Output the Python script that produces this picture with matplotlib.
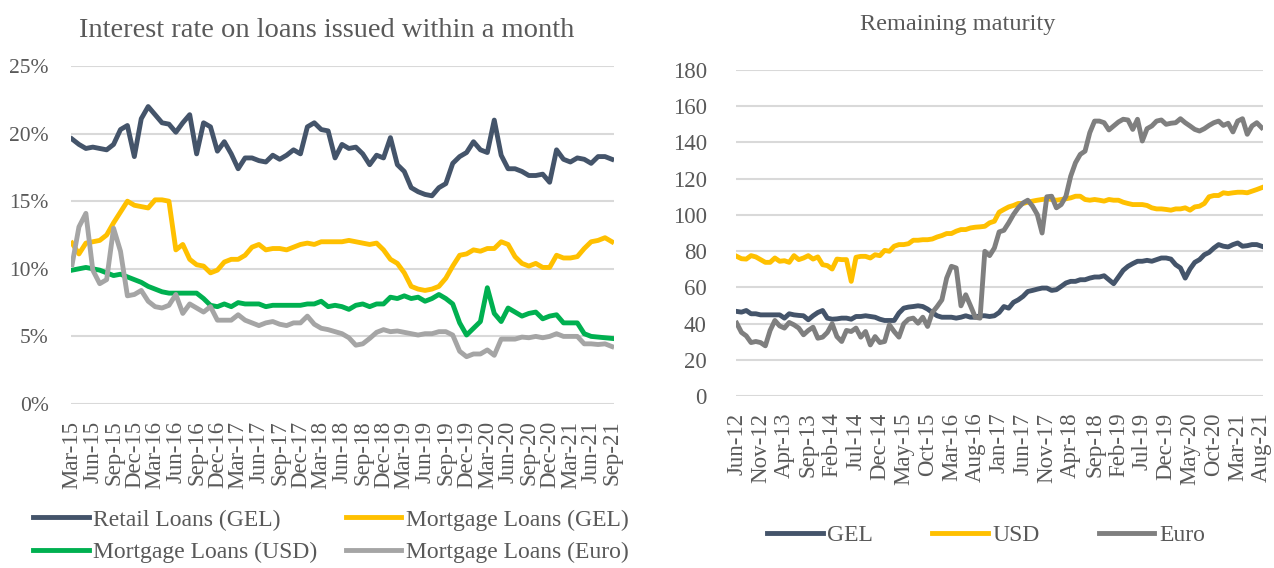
import matplotlib
matplotlib.use("Agg")
import matplotlib.pyplot as plt
from matplotlib.ticker import FuncFormatter

# left panel: interest rates (%), monthly Mar-15 .. Sep-21
left_months = ["Mar-15", "Jun-15", "Sep-15", "Dec-15", "Mar-16", "Jun-16", "Sep-16", "Dec-16",
               "Mar-17", "Jun-17", "Sep-17", "Dec-17", "Mar-18", "Jun-18", "Sep-18", "Dec-18",
               "Mar-19", "Jun-19", "Sep-19", "Dec-19", "Mar-20", "Jun-20", "Sep-20", "Dec-20",
               "Mar-21", "Jun-21", "Sep-21"]

retail_gel = [19.6, 19.2, 18.9, 19.0, 18.9, 18.8, 19.2, 20.3, 20.6, 18.3,
              21.1, 22.0, 21.4, 20.8, 20.7, 20.1, 20.8, 21.4, 18.5, 20.8,
              20.5, 18.7, 19.4, 18.5, 17.4, 18.2, 18.2, 18.0, 17.9, 18.4,
              18.1, 18.4, 18.8, 18.5, 20.5, 20.8, 20.3, 20.2, 18.2, 19.2,
              18.9, 19.0, 18.5, 17.7, 18.4, 18.2, 19.7, 17.7, 17.2, 16.0,
              15.7, 15.5, 15.4, 16.0, 16.3, 17.8, 18.3, 18.6, 19.4, 18.8,
              18.6, 21.0, 18.4, 17.4, 17.4, 17.2, 16.9, 16.9, 17.0, 16.4,
              18.8, 18.1, 17.9, 18.2, 18.1, 17.8, 18.3, 18.3, 18.1]

mortgage_gel = [11.9, 11.1, 11.9, 12.0, 12.1, 12.5, 13.4, 14.2, 15.0, 14.7,
                14.6, 14.5, 15.1, 15.1, 15.0, 11.4, 11.8, 10.7, 10.3, 10.2,
                9.7, 9.9, 10.5, 10.7, 10.7, 11.0, 11.6, 11.8, 11.4, 11.5,
                11.5, 11.4, 11.6, 11.8, 11.9, 11.8, 12.0, 12.0, 12.0, 12.0,
                12.1, 12.0, 11.9, 11.8, 11.9, 11.4, 10.7, 10.4, 9.7, 8.7,
                8.5, 8.4, 8.5, 8.7, 9.3, 10.2, 11.0, 11.1, 11.4, 11.3,
                11.5, 11.5, 12.0, 11.8, 10.9, 10.4, 10.2, 10.4, 10.1, 10.1,
                11.0, 10.8, 10.8, 10.9, 11.5, 12.0, 12.1, 12.3, 12.0]

mortgage_usd = [9.9, 10.0, 10.1, 10.0, 9.9, 9.7, 9.5, 9.6, 9.4, 9.2,
                9.0, 8.7, 8.5, 8.3, 8.2, 8.2, 8.2, 8.2, 8.2, 7.8,
                7.3, 7.2, 7.4, 7.2, 7.5, 7.4, 7.4, 7.4, 7.2, 7.3,
                7.3, 7.3, 7.3, 7.3, 7.4, 7.4, 7.6, 7.2, 7.3, 7.2,
                7.0, 7.3, 7.4, 7.2, 7.4, 7.4, 7.9, 7.8, 8.0, 7.8,
                7.9, 7.6, 7.8, 8.1, 7.8, 7.4, 6.0, 5.1, 5.6, 6.1,
                8.6, 6.7, 6.1, 7.1, 6.8, 6.5, 6.7, 6.8, 6.3, 6.5,
                6.6, 6.0, 6.0, 6.0, 5.2, 5.0, 4.95, 4.9, 4.85]

mortgage_eur = [10.3, 13.1, 14.1, 9.9, 8.9, 9.2, 13.0, 11.3, 8.0, 8.1,
                8.4, 7.6, 7.2, 7.1, 7.3, 8.1, 6.7, 7.4, 7.1, 6.8,
                7.2, 6.2, 6.2, 6.2, 6.6, 6.2, 6.0, 5.8, 6.0, 6.1,
                5.9, 5.8, 6.0, 6.0, 6.5, 5.9, 5.6, 5.5, 5.35, 5.2,
                4.9, 4.35, 4.45, 4.85, 5.3, 5.5, 5.35, 5.4, 5.3, 5.2,
                5.1, 5.2, 5.2, 5.35, 5.35, 5.1, 3.9, 3.5, 3.7, 3.7,
                4.0, 3.6, 4.8, 4.8, 4.8, 4.95, 4.9, 5.0, 4.9, 5.0,
                5.2, 5.0, 5.0, 5.0, 4.45, 4.45, 4.4, 4.45, 4.25]

# right panel: remaining maturity (months), monthly Jun-12 .. Aug-21
right_months = ["Jun-12", "Nov-12", "Apr-13", "Sep-13", "Feb-14", "Jul-14", "Dec-14", "May-15",
                "Oct-15", "Mar-16", "Aug-16", "Jan-17", "Jun-17", "Nov-17", "Apr-18", "Sep-18",
                "Feb-19", "Jul-19", "Dec-19", "May-20", "Oct-20", "Mar-21", "Aug-21"]

mat_gel = [46.7, 46.3, 47.2, 45.4, 45.4, 44.8, 44.8, 44.8, 44.8, 44.8,
           43.0, 45.4, 44.8, 44.5, 44.3, 42.1, 44.3, 46.1, 47.2, 43.0,
           42.4, 42.6, 43.0, 43.0, 42.4, 43.9, 43.9, 44.3, 43.9, 43.5,
           42.4, 41.7, 41.7, 41.7, 45.8, 48.5, 49.1, 49.4, 49.8, 49.4,
           48.0, 46.1, 44.3, 43.5, 43.5, 43.5, 43.0, 43.5, 44.3, 43.5,
           43.5, 44.3, 44.3, 43.9, 44.3, 46.1, 49.4, 48.5, 51.7, 53.1,
           55.0, 57.7, 58.3, 59.0, 59.6, 59.6, 58.3, 58.7, 60.5, 62.4,
           63.3, 63.3, 64.2, 64.2, 65.1, 65.7, 65.7, 66.4, 64.2, 62.0,
           65.7, 69.4, 71.6, 73.1, 74.4, 74.4, 74.9, 74.4, 75.3, 76.2,
           76.2, 75.6, 72.5, 70.7, 65.1, 70.1, 73.8, 75.3, 78.0, 79.3,
           81.7, 83.6, 82.7, 82.3, 83.6, 84.5, 82.7, 83.0, 83.6, 83.6, 82.7]

mat_usd = [77.1, 75.8, 75.6, 77.5, 76.8, 75.3, 73.8, 73.8, 76.2, 74.4,
           74.7, 73.8, 77.5, 75.3, 76.2, 77.5, 75.6, 76.8, 72.5, 72.0,
           70.1, 75.6, 75.3, 75.3, 63.3, 76.6, 77.1, 77.1, 76.2, 78.0,
           77.5, 80.4, 79.9, 82.7, 83.6, 83.6, 84.1, 86.0, 86.0, 86.3,
           86.3, 86.7, 87.8, 88.6, 89.7, 89.7, 91.0, 91.9, 91.9, 92.8,
           93.2, 93.4, 93.7, 95.6, 96.5, 101.5, 103.0, 104.4, 105.2, 106.3,
           106.3, 107.0, 107.6, 108.1, 108.5, 108.9, 108.5, 108.1, 108.5, 108.9,
           109.4, 110.3, 110.3, 108.5, 108.1, 108.5, 108.1, 107.6, 108.5, 108.1,
           108.1, 107.0, 106.3, 105.7, 105.7, 105.7, 105.2, 103.9, 103.3, 103.3,
           103.0, 102.6, 103.3, 103.3, 103.9, 102.6, 104.4, 104.8, 106.3, 110.0,
           110.7, 110.7, 112.2, 111.8, 112.2, 112.5, 112.5, 112.2, 113.1, 114.0, 115.0]

mat_eur = [40.2, 35.1, 33.2, 29.5, 30.1, 29.5, 27.7, 36.2, 41.7, 38.7,
           37.5, 40.6, 39.3, 37.5, 33.8, 36.2, 38.0, 31.9, 32.5, 35.1,
           39.9, 32.8, 30.1, 36.2, 35.6, 37.5, 32.5, 35.6, 28.2, 32.8,
           29.5, 30.1, 39.3, 35.6, 32.5, 39.9, 42.4, 43.0, 40.2, 43.5,
           38.4, 46.1, 49.4, 53.1, 65.1, 71.6, 70.7, 49.8, 55.9, 49.8,
           43.5, 43.0, 79.9, 77.5, 81.7, 90.6, 91.5, 95.6, 100.2, 103.9,
           106.6, 108.1, 104.8, 100.2, 90.0, 110.0, 110.3, 103.9, 105.7, 110.3,
           121.4, 128.8, 133.4, 135.2, 145.4, 151.8, 151.8, 150.9, 146.9, 149.1,
           151.3, 152.8, 152.4, 147.2, 152.8, 140.8, 147.6, 149.1, 151.8, 152.4,
           150.0, 150.6, 150.9, 153.1, 150.9, 149.1, 147.2, 146.3, 147.6, 149.4,
           150.9, 151.8, 149.4, 150.6, 145.8, 151.8, 153.1, 144.5, 149.1, 150.9, 148.2]

txt = "#595959"
grid = "#D9D9D9"
navy, yellow, green = "#44546A", "#FFC000", "#00B050"
lgrey, dgrey = "#A5A5A5", "#7F7F7F"
lw = 3.5

plt.rcParams["font.family"] = ["Liberation Serif", "DejaVu Serif"]
plt.rcParams["text.color"] = txt

fig = plt.figure(figsize=(12.74, 5.68), dpi=100)
W, H = 1274, 568


def box(x0, x1, ytop, ybot):
    return [x0 / W, 1 - ybot / H, (x1 - x0) / W, (ybot - ytop) / H]


def style(ax):
    for s in ax.spines.values():
        s.set_visible(False)
    ax.grid(axis="y", color=grid, linewidth=1.5)
    ax.set_axisbelow(True)
    ax.tick_params(length=0, colors=txt)
    ax.tick_params(axis="y", labelsize=15.5)
    ax.tick_params(axis="x", rotation=90, pad=12, labelsize=16.5)


# ---- left panel
ax1 = fig.add_axes(box(71, 614, 66, 404))
x1 = list(range(len(retail_gel)))
l_ret, = ax1.plot(x1, retail_gel, color=navy, lw=lw, label="Retail Loans (GEL)", solid_joinstyle="round")
l_gel, = ax1.plot(x1, mortgage_gel, color=yellow, lw=lw, label="Mortgage Loans (GEL)", solid_joinstyle="round")
l_usd, = ax1.plot(x1, mortgage_usd, color=green, lw=lw, label="Mortgage Loans (USD)", solid_joinstyle="round")
l_eur, = ax1.plot(x1, mortgage_eur, color=lgrey, lw=lw, label="Mortgage Loans (Euro)", solid_joinstyle="round")
ax1.set_ylim(0, 25)
ax1.set_yticks([0, 5, 10, 15, 20, 25])
ax1.yaxis.set_major_formatter(FuncFormatter(lambda v, p: f"{v:.0f}%"))
ax1.set_xticks(range(0, len(retail_gel), 3))
ax1.set_xticklabels(left_months)
ax1.set_xlim(-0.15, 78.3)
style(ax1)
ax1.tick_params(axis="y", pad=16)
fig.text(327 / W, 1 - 37 / H, "Interest rate on loans issued within a month",
         ha="center", va="baseline", fontsize=20.5, color=txt)
# legend is filled row by row in the original
order = [l_ret, l_usd, l_gel, l_eur]
fig.legend(order, [h.get_label() for h in order], ncol=2, frameon=False,
           loc="center", bbox_to_anchor=(331 / W, 1 - 536 / H), fontsize=17,
           handlelength=2.35, handletextpad=0.2, columnspacing=1.2,
           labelspacing=0.45, borderpad=0, labelcolor=txt)

# ---- right panel
ax2 = fig.add_axes(box(736, 1263, 70, 396))
x2 = list(range(len(mat_gel)))
ax2.plot(x2, mat_gel, color=navy, lw=lw, label="GEL", solid_joinstyle="round")
ax2.plot(x2, mat_usd, color=yellow, lw=lw, label="USD", solid_joinstyle="round")
ax2.plot(x2, mat_eur, color=dgrey, lw=lw, label="Euro", solid_joinstyle="round")
ax2.set_ylim(0, 180)
ax2.set_yticks(range(0, 181, 20))
ax2.set_xticks(range(0, len(mat_gel), 5))
ax2.set_xticklabels(right_months)
ax2.set_xlim(-0.15, 110.3)
style(ax2)
ax2.tick_params(axis="y", pad=21, labelsize=16.5)
fig.text(958 / W, 1 - 30 / H, "Remaining maturity",
         ha="center", va="baseline", fontsize=17.5, color=txt)
fig.legend(*ax2.get_legend_handles_labels(), ncol=3, frameon=False,
           loc="center", bbox_to_anchor=(986 / W, 1 - 535 / H), fontsize=17,
           handlelength=2.35, handletextpad=0.2, columnspacing=2.5,
           borderpad=0, labelcolor=txt)

fig.savefig("out.png", dpi=100)
